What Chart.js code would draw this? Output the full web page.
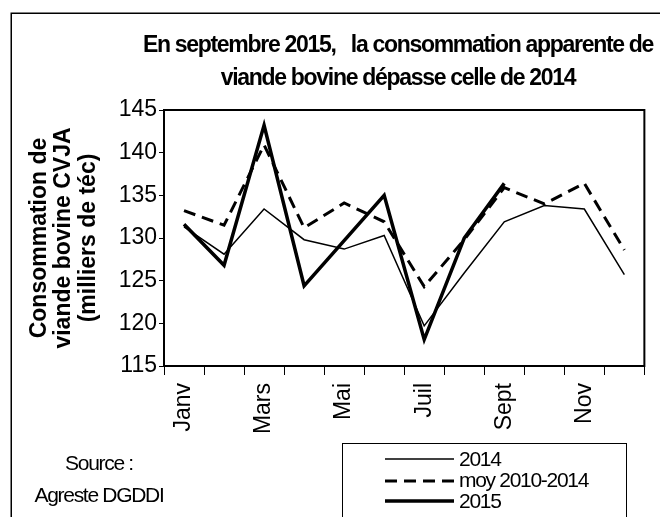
<!DOCTYPE html>
<html>
<head>
<meta charset="utf-8">
<script src="https://cdn.jsdelivr.net/npm/chart.js@4.4.0/dist/chart.umd.min.js"></script>
<style>
  html, body { margin: 0; padding: 0; background: #fff; }
</style>
</head>
<body>
<canvas id="grafica" width="660" height="517"></canvas>
<script>
// Données (milliers de téc)
const mois = ['Janv', 'Févr', 'Mars', 'Avr', 'Mai', 'Juin', 'Juil', 'Août', 'Sept', 'Oct', 'Nov', 'Déc'];
const serie2014 = [131.3, 128.1, 133.4, 129.8, 128.7, 130.3, 119.7, 125.9, 131.9, 133.8, 133.4, 125.7];
const moy2010_2014 = [133.2, 131.5, 140.9, 131.2, 134.1, 131.9, 124.3, 129.8, 135.9, 134.0, 136.4, 128.6];
const serie2015 = [131.6, 126.8, 143.2, 124.4, 129.7, 135.0, 118.1, 130.0, 136.4, null, null, null];
const graduations = [115, 120, 125, 130, 135, 140, 145];

const titre = ['En septembre 2015,   la consommation apparente de', 'viande bovine dépasse celle de 2014'];
const titreAxeY = ['Consommation de', 'viande bovine CVJA', '(milliers de téc)'];
const source = ['Source :', 'Agreste DGDDI'];

Chart.defaults.font.family = '"Liberation Sans", Arial, sans-serif';
Chart.defaults.color = '#000';

// cadres, titre, légende et source dessinés à la main
const decor = {
  id: 'decor',
  afterDraw(chart) {
    const ctx = chart.ctx;
    const a = chart.chartArea;
    ctx.save();
    ctx.strokeStyle = '#000';
    ctx.lineWidth = 1.5;
    ctx.strokeRect(11.25, 13.25, 700, 600);
    ctx.lineWidth = 2;
    ctx.strokeRect(a.left, a.top, a.right - a.left, a.bottom - a.top);

    ctx.fillStyle = '#000';
    ctx.textAlign = 'center';
    ctx.textBaseline = 'alphabetic';
    ctx.font = 'bold 23px "Liberation Sans"';
    ctx.letterSpacing = '-1.3px';
    titre.forEach((t, i) => ctx.fillText(t, 398, 52 + i * 33));

    ctx.font = '21px "Liberation Sans"';
    source.forEach((t, i) => ctx.fillText(t, 99, 470 + i * 32));

    // légende
    ctx.lineWidth = 1;
    ctx.strokeRect(342.5, 443.5, 284, 100);
    const lignes = [459, 481, 501];
    const bases = [466, 487, 507.5];
    ctx.textAlign = 'left';
    chart.data.datasets.forEach((ds, i) => {
      ctx.beginPath();
      ctx.lineWidth = ds.borderWidth;
      ctx.setLineDash(ds.borderDash || []);
      ctx.moveTo(385, lignes[i]);
      ctx.lineTo(454, lignes[i]);
      ctx.stroke();
      ctx.setLineDash([]);
      ctx.fillText(ds.label, 459, bases[i]);
    });
    ctx.restore();
  }
};

const ctx = document.getElementById('grafica');

const grafica = new Chart(ctx, {
  type: 'line',
  data: {
    labels: mois,
    datasets: [
      { label: '2014', data: serie2014, borderColor: '#000', borderWidth: 1.5, pointRadius: 0, tension: 0 },
      { label: 'moy 2010-2014', data: moy2010_2014, borderColor: '#000', borderWidth: 3, borderDash: [12, 7], pointRadius: 0, tension: 0 },
      { label: '2015', data: serie2015, borderColor: '#000', borderWidth: 3.5, pointRadius: 0, tension: 0 }
    ]
  },
  options: {
    responsive: false,
    animation: false,
    layout: { padding: { top: 110, right: 1, left: 0, bottom: 0 } },
    plugins: {
      legend: { display: false },
      title: { display: false },
      tooltip: { enabled: false }
    },
    scales: {
      x: {
        offset: true,
        grid: { offset: true, drawOnChartArea: false, tickLength: 9, color: '#000' },
        border: { display: false },
        ticks: {
          autoSkip: false, minRotation: 90, maxRotation: 90, padding: 8,
          font: { size: 23 },
          callback: (v, i) => i % 2 === 0 ? mois[i] : ''
        },
        afterFit: s => { s.height = 151; }
      },
      y: {
        min: graduations[0],
        max: graduations[graduations.length - 1],
        grid: { drawOnChartArea: false, tickLength: 5, color: '#000' },
        border: { display: false },
        ticks: { stepSize: graduations[1] - graduations[0], padding: 2, font: { size: 23 } },
        title: {
          display: true,
          text: titreAxeY,
          font: { size: 23, weight: 'bold', lineHeight: '24.5px' },
          padding: { top: 27, bottom: 0 }
        },
        afterFit: s => { s.width = 164; }
      }
    }
  },
  plugins: [decor]
});
</script>
</body>
</html>
